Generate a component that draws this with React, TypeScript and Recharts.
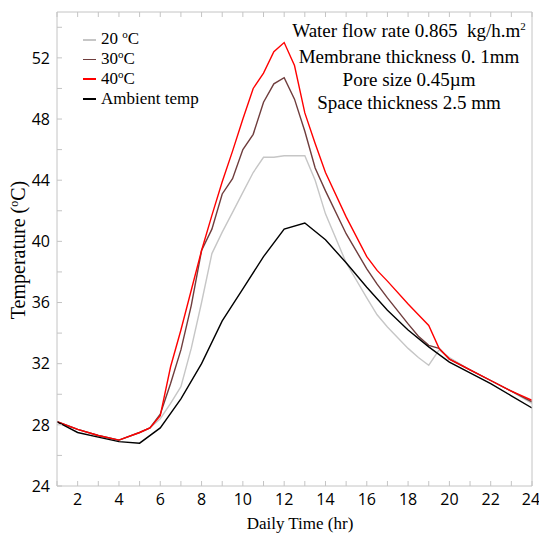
import { CartesianGrid, Line, LineChart, XAxis, YAxis } from "recharts";

const hours = [1, 2, 3, 4, 5, 5.5, 6, 6.5, 7, 7.5, 8, 8.5, 9, 9.5, 10, 10.5, 11, 11.5, 12, 12.5, 13, 13.5, 14, 15, 16, 16.5, 17, 18, 18.5, 19, 19.5, 20, 21, 22, 23, 24];

const temp20 = [28.2, 27.7, 27.3, 27.0, 27.5, 27.8, 28.4, 29.4, 30.5, 33.0, 36.0, 39.2, 40.6, 41.9, 43.2, 44.5, 45.5, 45.5, 45.6, 45.6, 45.6, 44.0, 41.8, 38.6, 36.3, 35.2, 34.4, 33.0, 32.4, 31.9, 32.9, 32.4, 31.6, 30.9, 30.2, 29.4];
const temp30 = [28.2, 27.7, 27.3, 27.0, 27.5, 27.8, 28.7, 30.7, 32.9, 35.8, 39.4, 40.8, 43.1, 44.1, 46.0, 47.0, 49.1, 50.3, 50.7, 49.3, 47.2, 44.8, 43.3, 40.5, 38.2, 37.2, 36.3, 34.6, 33.8, 33.2, 33.0, 32.3, 31.6, 30.9, 30.2, 29.5];
const temp40 = [28.2, 27.7, 27.3, 27.0, 27.5, 27.8, 28.6, 31.8, 34.2, 36.8, 39.4, 41.7, 43.9, 45.9, 48.0, 50.0, 51.0, 52.4, 53.0, 51.5, 48.4, 46.4, 44.5, 41.6, 39.0, 38.1, 37.4, 35.9, 35.2, 34.5, 33.0, 32.3, 31.6, 30.9, 30.2, 29.6];
const ambient = [28.2, 27.5, 27.2, 26.9, 26.8, null, 27.8, null, 29.7, null, 32.0, null, 34.8, null, 36.9, null, 39.0, null, 40.8, null, 41.2, null, 40.1, 38.6, 37.0, null, 35.5, 34.2, null, 33.1, null, 32.1, 31.4, 30.7, 29.9, 29.1];

const xTicks = [1, 2, 3, 4, 5, 6, 7, 8, 9, 10, 11, 12, 13, 14, 15, 16, 17, 18, 19, 20, 21, 22, 23, 24];
const yTicks = [24, 26, 28, 30, 32, 34, 36, 38, 40, 42, 44, 46, 48, 50, 52, 54];

const notes = ["Membrane thickness 0. 1mm", "Pore size 0.45\u00b5m", "Space thickness 2.5 mm"];

const series = [
    { key: "t20", label: "20 ", color: "#c6c6c6" },
    { key: "t30", label: "30", color: "#6f3d3d" },
    { key: "t40", label: "40", color: "#ff0000" },
    { key: "amb", label: "Ambient temp", color: "#000000" },
];

const data = hours.map((h, i) => ({
    h,
    t20: temp20[i],
    t30: temp30[i],
    t40: temp40[i],
    amb: ambient[i],
}));

const axisColor = "#c4c4c4";
const serif = "'Liberation Serif', serif";
const tickFont = { fontFamily: "'Open Sans', sans-serif", fontSize: 16, fill: "#000" };

export default function App() {
    return (
        <div style={{ position: "absolute", left: 0, top: 0, width: 539, height: 534, background: "#fff" }}>
            <LineChart width={539} height={534} data={data} margin={{ top: 0, right: 0, bottom: 0, left: 0 }}>
                <CartesianGrid horizontal={false} vertical={false} />
                <XAxis
                    xAxisId="b"
                    dataKey="h"
                    type="number"
                    domain={[1, 24]}
                    ticks={xTicks}
                    tickFormatter={(v) => (v % 2 === 0 ? String(v) : "")}
                    height={48}
                    stroke={axisColor}
                    tickSize={-5}
                    tickMargin={13}
                    tick={tickFont}
                    allowDataOverflow
                />
                <XAxis
                    xAxisId="t"
                    orientation="top"
                    dataKey="h"
                    type="number"
                    domain={[1, 24]}
                    ticks={xTicks}
                    tickFormatter={() => ""}
                    height={12}
                    stroke={axisColor}
                    tickSize={-5}
                />
                <YAxis
                    yAxisId="l"
                    type="number"
                    domain={[24, 55]}
                    ticks={yTicks}
                    tickFormatter={(v) => (v % 4 === 0 ? String(v) : "")}
                    width={57}
                    stroke={axisColor}
                    tickSize={-5}
                    tickMargin={12}
                    tick={tickFont}
                    allowDataOverflow
                />
                <YAxis
                    yAxisId="r"
                    orientation="right"
                    type="number"
                    domain={[24, 55]}
                    ticks={yTicks}
                    tickFormatter={() => ""}
                    width={7}
                    stroke={axisColor}
                    tickSize={-5}
                />
                {series.map((s) => (
                    <Line
                        key={s.key}
                        xAxisId="b"
                        yAxisId="l"
                        type="linear"
                        dataKey={s.key}
                        stroke={s.color}
                        strokeWidth={1.4}
                        dot={false}
                        connectNulls
                        isAnimationActive={false}
                    />
                ))}
            </LineChart>

            <div style={{ position: "absolute", left: 83, top: 30, fontFamily: serif, fontSize: 17, lineHeight: "19px" }}>
                {series.map((s) => (
                    <div key={s.key} style={{ display: "flex", alignItems: "center", height: 19.7 }}>
                        <span style={{ display: "inline-block", width: 13, height: 1.5, background: s.color, marginRight: 5 }} />
                        <span style={{ lineHeight: "17px" }}>
                            {s.key === "amb" ? s.label : (
                                <>
                                    {s.label}
                                    <span style={{ fontSize: 11, position: "relative", top: -6 }}>o</span>C
                                </>
                            )}
                        </span>
                    </div>
                ))}
            </div>

            <div style={{ position: "absolute", left: 279, top: 19, width: 260, textAlign: "center", fontFamily: serif, fontSize: 19, lineHeight: "23px" }}>
                <div>
                    Water flow rate 0.865&nbsp;&nbsp;kg/h.m<span style={{ fontSize: 11, position: "relative", top: -7 }}>2</span>
                </div>
                {notes.map((n) => (
                    <div key={n}>{n}</div>
                ))}
            </div>

            <div
                style={{
                    position: "absolute",
                    left: 19,
                    top: 250,
                    width: 200,
                    transform: "translate(-50%, -50%) rotate(-90deg)",
                    textAlign: "center",
                    fontFamily: serif,
                    fontSize: 20,
                    lineHeight: "22px",
                    whiteSpace: "nowrap",
                }}
            >
                Temperature (<span style={{ fontSize: 12, position: "relative", top: -7 }}>o</span>C)
            </div>

            <div style={{ position: "absolute", left: 200, top: 514, width: 200, textAlign: "center", fontFamily: serif, fontSize: 17, lineHeight: "20px" }}>
                Daily Time (hr)
            </div>
        </div>
    );
}
